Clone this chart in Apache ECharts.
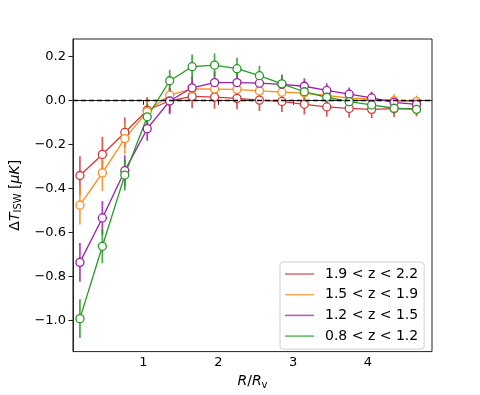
<!DOCTYPE html>
<html>
<head>
<meta charset="utf-8">
<script src="https://cdn.jsdelivr.net/npm/echarts@6/dist/echarts.min.js"></script>
<style>
  html, body { margin: 0; padding: 0; background: #fff; }
  #chart { width: 480px; height: 395px; }
</style>
</head>
<body>
<div id="chart"></div>
<script>
// R / R_v bin centres
const radii = [0.15, 0.45, 0.75, 1.05, 1.35, 1.65, 1.95, 2.25, 2.55, 2.85, 3.15, 3.45, 3.75, 4.05, 4.35, 4.65];

// Delta T_ISW [muK] per redshift bin
const redVals    = [-0.342, -0.246, -0.146, -0.045, -0.002, 0.018, 0.015, 0.009, 0.001, -0.005, -0.018, -0.030, -0.037, -0.041, -0.038, -0.038];
const orangeVals = [-0.477, -0.330, -0.174, -0.051, 0.024, 0.052, 0.051, 0.050, 0.043, 0.037, 0.033, 0.022, 0.010, 0.006, -0.002, -0.006];
const purpleVals = [-0.737, -0.535, -0.320, -0.129, -0.003, 0.057, 0.081, 0.081, 0.078, 0.073, 0.064, 0.045, 0.028, 0.011, -0.009, -0.018];
const greenVals  = [-0.993, -0.664, -0.340, -0.075, 0.089, 0.153, 0.160, 0.144, 0.112, 0.075, 0.039, 0.014, -0.006, -0.021, -0.036, -0.041];

// 1-sigma error bars
const redErr    = [0.088, 0.080, 0.068, 0.060, 0.055, 0.054, 0.053, 0.050, 0.050, 0.048, 0.046, 0.044, 0.042, 0.040, 0.038, 0.035];
const orangeErr = [0.088, 0.083, 0.070, 0.060, 0.055, 0.050, 0.050, 0.048, 0.045, 0.042, 0.040, 0.038, 0.035, 0.032, 0.030, 0.028];
const purpleErr = [0.088, 0.077, 0.070, 0.055, 0.060, 0.050, 0.050, 0.045, 0.042, 0.040, 0.036, 0.033, 0.030, 0.028, 0.026, 0.024];
const greenErr  = [0.088, 0.077, 0.070, 0.060, 0.050, 0.055, 0.053, 0.050, 0.045, 0.042, 0.038, 0.034, 0.030, 0.028, 0.026, 0.024];

const labels = ['1.9 < z < 2.2', '1.5 < z < 1.9', '1.2 < z < 1.5', '0.8 < z < 1.2'];
const colors = ['#d03a3a', '#ff8c1a', '#9a1fa8', '#259a25'];

const xTicks = [1, 2, 3, 4];
const yTicks = [-1.0, -0.8, -0.6, -0.4, -0.2, 0.0, 0.2];

const groups = [
    [redVals, redErr],
    [orangeVals, orangeErr],
    [purpleVals, purpleErr],
    [greenVals, greenErr]
];

const FONT = 'DejaVu Sans';

const series = [];
groups.forEach(([vals, errs], i) => {
    const c = colors[i];
    // error bars
    series.push({
        type: 'custom',
        name: labels[i] + ' err',
        z: 2,
        silent: true,
        data: radii.map((r, k) => [r, vals[k] - errs[k], vals[k] + errs[k]]),
        renderItem: (params, api) => {
            const lo = api.coord([api.value(0), api.value(1)]);
            const hi = api.coord([api.value(0), api.value(2)]);
            return {
                type: 'line',
                shape: { x1: lo[0], y1: lo[1], x2: hi[0], y2: hi[1] },
                style: { stroke: c, lineWidth: 1.7, opacity: 0.85 }
            };
        }
    });
    // data line with open markers
    series.push({
        type: 'line',
        name: labels[i],
        z: 3,
        data: radii.map((r, k) => [r, vals[k]]),
        symbol: 'circle',
        symbolSize: 8,
        showAllSymbol: true,
        lineStyle: { color: c, width: 1.3 },
        itemStyle: { color: '#fff', borderColor: c, borderWidth: 1.3 },
        emphasis: { disabled: true },
        markLine: i === 0 ? {
            silent: true,
            symbol: 'none',
            label: { show: false },
            lineStyle: { color: '#000', type: [5, 3], width: 1.3 },
            data: [{ yAxis: 0 }]
        } : undefined
    });
});

const chart = echarts.init(document.getElementById('chart'), null, { renderer: 'canvas' });

chart.setOption({
    animation: false,
    backgroundColor: '#fff',
    grid: {
        left: 72, right: 48, top: 39, bottom: 40,
        show: true, borderColor: '#222', borderWidth: 1
    },
    xAxis: {
        type: 'value',
        min: 0.057,
        max: 4.857,
        splitLine: { show: false },
        axisLine: { show: true, lineStyle: { color: '#222' } },
        axisTick: { show: true, length: 4.5, customValues: xTicks, lineStyle: { color: '#222' } },
        axisLabel: {
            customValues: xTicks,
            margin: 5,
            color: '#000',
            fontFamily: FONT,
            fontSize: 13
        },
        name: '{i|R}{n|/}{i|R}{s|v}',
        nameLocation: 'middle',
        nameGap: 20,
        nameTextStyle: {
            rich: {
                i: { fontFamily: FONT, fontStyle: 'italic', fontSize: 14, color: '#000' },
                n: { fontFamily: FONT, fontSize: 14, color: '#000' },
                s: { fontFamily: FONT, fontSize: 10, color: '#000', padding: [7, 0, 0, 0] }
            }
        }
    },
    yAxis: {
        type: 'value',
        min: -1.143,
        max: 0.279,
        splitLine: { show: false },
        axisLine: { show: true, lineStyle: { color: '#222' } },
        axisTick: { show: true, length: 4.5, customValues: yTicks, lineStyle: { color: '#222' } },
        axisLabel: {
            customValues: yTicks,
            margin: 7,
            color: '#000',
            fontFamily: FONT,
            fontSize: 13,
            formatter: v => v.toFixed(1).replace('-', '\u2212')
        },
        name: '{n|\u0394}{i|T}{s|ISW}{n| [}{i|\u03bcK}{n|]}',
        nameLocation: 'middle',
        nameRotate: 90,
        nameGap: 34,
        nameTextStyle: {
            rich: {
                i: { fontFamily: FONT, fontStyle: 'italic', fontSize: 14, color: '#000' },
                n: { fontFamily: FONT, fontSize: 14, color: '#000' },
                s: { fontFamily: FONT, fontSize: 10, color: '#000', padding: [7, 0, 0, 0] }
            }
        }
    },
    legend: {
        orient: 'vertical',
        left: 280,
        top: 262,
        padding: [4, 6, 5, 5],
        itemGap: 4.7,
        itemWidth: 29,
        itemHeight: 1.5,
        icon: 'rect',
        backgroundColor: 'rgba(255,255,255,0.8)',
        borderColor: '#d0d0d0',
        borderWidth: 1,
        borderRadius: 3,
        textStyle: {
            fontFamily: FONT,
            fontSize: 14,
            color: '#000',
            lineHeight: 16,
            padding: [0, 0, 0, 6]
        },
        data: labels.map((name, i) => ({
            name: name,
            itemStyle: { color: colors[i], opacity: 0.75, borderWidth: 0 }
        }))
    },
    series: series
});
</script>
</body>
</html>
